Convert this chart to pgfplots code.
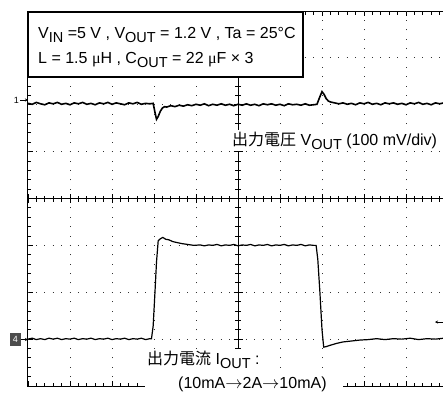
\documentclass[border=0pt]{standalone}
\usepackage{fontspec}
\setmainfont{Liberation Sans}
\newfontfamily\jp{Noto Sans CJK JP}
\newfontfamily\serif{Liberation Serif}
\usepackage{pgfplots}
\pgfplotsset{compat=1.18}
\usetikzlibrary{arrows.meta}

\newcommand{\sub}[1]{\raisebox{-0.25em}{\fontsize{14.5}{16}\selectfont #1}}
\newcommand{\muu}{{\serif μ}}
\tikzset{
  gridv/.style={black!80, line width=1pt, dash pattern=on 1pt off 8.375pt, dash phase=0.5pt},
  gridh/.style={black!80, line width=1pt, dash pattern=on 1pt off 7.4pt, dash phase=0.5pt},
  lbl/.style={font=\fontsize{16}{18}\selectfont},
}

\begin{document}
\begin{tikzpicture}
\useasboundingbox (0,0) rectangle (443pt,392pt);

% graticule, edges and the two traces
\begin{axis}[
  at={(28pt,6pt)}, anchor=south west,
  scale only axis, width=420pt, height=375pt,
  xmin=0, xmax=10, ymin=-4, ymax=4,
  xtick={0,...,10}, ytick={-4,...,4},
  minor x tick num=4, minor y tick num=4,
  xticklabels={}, yticklabels={},
  tick align=inside, major tick length=5pt, minor tick length=3.5pt,
  tick style={black, line width=0.8pt},
  axis line style={black, line width=1pt},
  clip=true,
]
\pgfplotsinvokeforeach{1,...,9}{\draw[gridv] (axis cs:#1,-4) -- (axis cs:#1,4);}
\pgfplotsinvokeforeach{-3,...,3}{\draw[gridh] (axis cs:0,#1) -- (axis cs:10,#1);}
% CH1 : output voltage
\addplot[black, line width=1.6pt] coordinates {
(0.00,2.03) (0.10,2.01) (0.20,2.05) (0.30,2.02) (0.40,2.00) (0.50,2.04) (0.60,2.02)
(0.70,2.05) (0.80,2.01) (0.90,2.03) (1.00,2.00) (1.10,2.04) (1.20,2.02) (1.30,2.05)
(1.40,2.01) (1.50,2.03) (1.60,2.00) (1.70,2.04) (1.80,2.02) (1.90,2.05) (2.00,2.01)
(2.10,2.04) (2.20,2.02) (2.30,2.00) (2.40,2.04) (2.50,2.02) (2.60,2.05) (2.70,2.01)
(2.80,2.03) (2.90,2.02) (2.98,2.03) (3.02,1.85) (3.06,1.69) (3.10,1.75) (3.15,1.86)
(3.20,1.93) (3.25,1.96) (3.30,1.95) (3.40,1.98) (3.50,1.96) (3.60,1.99) (3.70,1.97)
(3.80,2.00) (3.90,1.98) (4.00,2.01) (4.10,1.99) (4.20,2.02) (4.30,1.98) (4.40,2.01)
(4.50,1.99) (4.60,2.02) (4.70,1.99) (4.80,2.01) (4.90,1.98) (5.00,2.01) (5.10,1.99)
(5.20,2.02) (5.30,1.99) (5.40,2.01) (5.50,1.98) (5.60,2.02) (5.70,2.00) (5.80,2.02)
(5.90,1.99) (6.00,2.01) (6.10,1.98) (6.20,2.02) (6.30,2.00) (6.40,2.01) (6.50,1.99)
(6.60,2.02) (6.70,1.99) (6.80,2.00) (6.88,2.01) (6.94,2.15) (7.00,2.28) (7.05,2.22)
(7.10,2.13) (7.15,2.08) (7.20,2.06) (7.25,2.05) (7.30,2.04) (7.40,2.02) (7.50,2.04)
(7.60,2.01) (7.70,2.03) (7.80,2.00) (7.90,2.04) (8.00,2.02) (8.10,2.05) (8.20,2.01)
(8.30,2.03) (8.40,2.00) (8.50,2.04) (8.60,2.02) (8.70,2.04) (8.80,2.01) (8.90,2.03)
(9.00,2.00) (9.10,2.04) (9.20,2.02) (9.30,2.05) (9.40,2.01) (9.50,2.03) (9.60,2.00)
(9.70,2.04) (9.80,2.02) (9.90,2.04) (10.00,2.02)
};
% CH4 : output current
\addplot[black, line width=1.2pt] coordinates {
(0.0,-3.00) (0.1,-2.98) (0.2,-3.01) (0.3,-2.99) (0.4,-3.01) (0.5,-2.98) (0.6,-3.00)
(0.7,-2.98) (0.8,-3.01) (0.9,-2.99) (1.0,-3.00) (1.1,-2.98) (1.2,-3.01) (1.3,-2.99)
(1.4,-3.00) (1.5,-2.98) (1.6,-3.01) (1.7,-2.99) (1.8,-3.00) (1.9,-2.98) (2.0,-3.01)
(2.1,-2.99) (2.2,-3.00) (2.3,-2.98) (2.4,-3.01) (2.5,-2.99) (2.6,-3.00) (2.7,-2.98)
(2.8,-3.01) (2.9,-2.99) (2.94,-2.99) (2.98,-2.72) (3.02,-2.05) (3.06,-1.35) (3.10,-0.90)
(3.15,-0.86) (3.21,-0.83) (3.28,-0.87) (3.35,-0.88) (3.45,-0.92) (3.55,-0.94) (3.65,-0.96)
(3.80,-0.98) (3.95,-1.00) (4.1,-0.99) (4.2,-1.01) (4.3,-0.99) (4.4,-1.00) (4.5,-0.98)
(4.6,-1.01) (4.7,-0.99) (4.8,-1.00) (4.9,-0.98) (5.0,-1.01) (5.1,-0.99) (5.2,-1.00)
(5.3,-0.98) (5.4,-1.01) (5.5,-0.99) (5.6,-1.00) (5.7,-0.98) (5.8,-1.01) (5.9,-0.99)
(6.0,-1.00) (6.1,-0.98) (6.2,-1.01) (6.3,-0.99) (6.4,-1.00) (6.5,-0.98) (6.6,-1.01)
(6.7,-0.99) (6.8,-1.00) (6.86,-1.00) (6.90,-1.30) (6.95,-2.00) (7.00,-2.80) (7.04,-3.17)
(7.10,-3.16) (7.20,-3.13) (7.35,-3.09) (7.50,-3.06) (7.70,-3.04) (7.90,-3.02) (8.1,-3.01)
(8.3,-2.99) (8.5,-3.01) (8.7,-2.99) (8.9,-3.00) (9.1,-2.98) (9.3,-3.01) (9.5,-2.99)
(9.7,-3.00) (9.9,-2.98) (10.0,-3.00)
};
\end{axis}

% centre cross with its ticks
\begin{axis}[
  at={(28pt,6pt)}, anchor=south west,
  scale only axis, width=420pt, height=375pt,
  xmin=-5, xmax=5, ymin=-4, ymax=4,
  axis lines=center, axis line style={-, black, line width=1pt},
  xtick={-5,...,5}, ytick={-4,...,4},
  minor x tick num=4, minor y tick num=4,
  xticklabels={}, yticklabels={},
  tick align=center, major tick length=9pt, minor tick length=6pt,
  tick style={black, line width=0.8pt},
]
\end{axis}

% text box
\draw[black, line width=2.5pt, fill=white] (28pt,315pt) rectangle (303pt,380pt);
\node[anchor=base west, inner sep=0pt, lbl] at (38pt,354pt)
  {V\sub{IN} =5 V , V\sub{OUT} = 1.2 V , Ta = 25°C};
\node[anchor=base west, inner sep=0pt, lbl] at (38pt,329pt)
  {L = 1.5 \muu H , C\sub{OUT} = 22 \muu F × 3};

% trace labels
\node[anchor=base west, fill=white, inner sep=2pt, lbl] at (230pt,247pt)
  {{\jp 出力電圧} V\sub{OUT} (100 mV/div)};
\fill[white] (145pt,18pt) rectangle (266pt,43pt);
\fill[white] (145pt,0pt) rectangle (343pt,18pt);
\node[anchor=base west, inner sep=0pt, lbl] at (147pt,28pt)
  {{\jp 出力電流} I\sub{OUT} :};
\node[anchor=base west, inner sep=0pt, lbl] at (178pt,4pt)
  {(10mA$\to$2A$\to$10mA)};

% channel markers
\node[anchor=east, inner sep=0pt, font=\fontsize{9}{10}\selectfont] at (19pt,292pt) {1};
\draw[black, line width=0.6pt, -{Stealth[length=3pt,width=3pt]}] (20pt,292pt) -- (28pt,292pt);
\fill[black!70] (10pt,46pt) rectangle (21pt,59pt);
\node[white, inner sep=0pt, font=\fontsize{9}{10}\selectfont] at (15.5pt,52.5pt) {4};
\draw[black, line width=0.6pt, -{Stealth[length=3pt,width=3pt]}] (21pt,52.5pt) -- (28pt,52.5pt);
\draw[black, line width=0.6pt, -{Stealth[length=3pt,width=3pt]}] (443pt,70pt) -- (435pt,70pt);
\end{tikzpicture}
\end{document}
